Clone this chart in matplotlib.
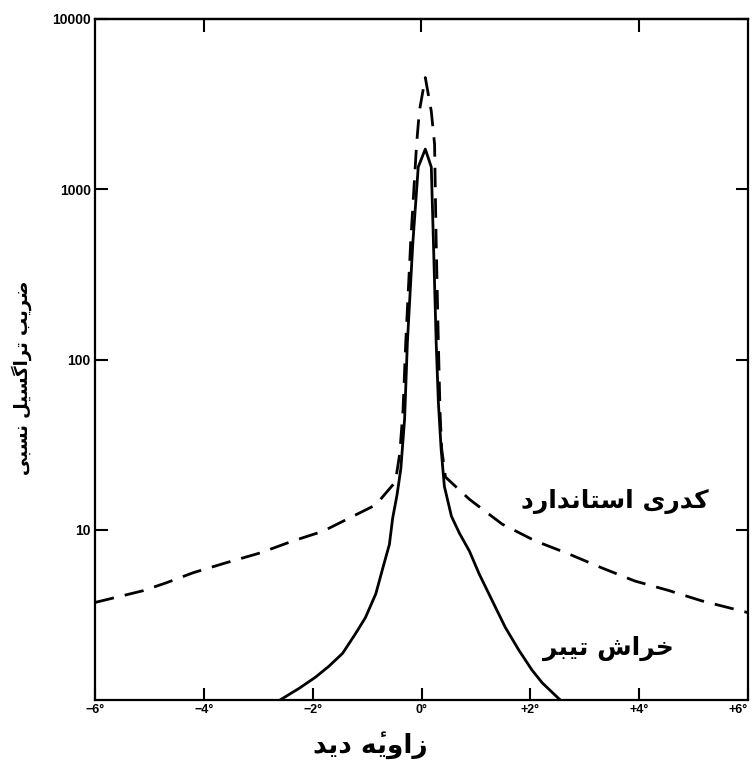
import matplotlib
matplotlib.use("Agg")
import matplotlib.pyplot as plt

# curve readings (angle in degrees, relative value)
solid_x = [-2.60, -2.25, -1.95, -1.70, -1.45, -1.21, -1.03, -0.84, -0.71, -0.59, -0.53, -0.45, -0.38,
           -0.31, -0.26, -0.16, -0.06, 0.07, 0.18, 0.22, 0.27, 0.31, 0.36, 0.42, 0.55,
           0.70, 0.88, 1.06, 1.30, 1.54, 1.79, 2.03, 2.22, 2.40, 2.55]
solid_y = [1.0, 1.17, 1.36, 1.58, 1.88, 2.46, 3.05, 4.2, 5.97, 8.2, 11.7, 16.0, 22.8,
           45.0, 125.0, 480.0, 1350.0, 1722.0, 1350.0, 480.0, 125.0, 56.0, 30.0, 18.0, 12.0,
           9.5, 7.5, 5.5, 3.83, 2.67, 1.96, 1.5, 1.26, 1.11, 1.0]

dashed_x = [-6.0, -5.11, -4.69, -4.19, -3.59, -2.97, -2.36, -1.81, -1.26, -0.84, -0.48,
            -0.40, -0.34, -0.29, -0.20, -0.09, -0.04, 0.07, 0.18, 0.24, 0.27, 0.31, 0.34,
            0.37, 0.44, 0.88, 1.48, 2.09, 2.71, 3.32, 3.92, 4.54, 5.14, 6.0]
dashed_y = [3.74, 4.39, 4.88, 5.6, 6.4, 7.3, 8.6, 9.8, 12.0, 14.0, 19.1,
            28.0, 50.0, 125.0, 480.0, 1842.0, 2870.0, 4530.0, 2870.0, 1842.0, 480.0, 125.0, 50.0,
            30.0, 20.4, 15.1, 10.8, 8.6, 7.2, 5.96, 5.0, 4.4, 3.83, 3.26]

x_ticks = [-6, -4, -2, 0, 2, 4, 6]
x_labels = ["\u22126°", "\u22124°", "\u22122°", "0°", "+2°", "+4°", "+6°"]
top_ticks = [-4, 0, 4]
y_ticks = [10, 100, 1000, 10000]
y_labels = ["10", "100", "1000", "10000"]

# Persian letters -> presentation forms (isolated, final, initial, medial)
FORMS = {
    'ا': ('\uFE8D', '\uFE8E'),
    'ب': ('\uFE8F', '\uFE90', '\uFE91', '\uFE92'),
    'ت': ('\uFE95', '\uFE96', '\uFE97', '\uFE98'),
    'خ': ('\uFEA5', '\uFEA6', '\uFEA7', '\uFEA8'),
    'د': ('\uFEA9', '\uFEAA'),
    'ر': ('\uFEAD', '\uFEAE'),
    'ز': ('\uFEAF', '\uFEB0'),
    'س': ('\uFEB1', '\uFEB2', '\uFEB3', '\uFEB4'),
    'ش': ('\uFEB5', '\uFEB6', '\uFEB7', '\uFEB8'),
    'ض': ('\uFEBD', '\uFEBE', '\uFEBF', '\uFEC0'),
    'ل': ('\uFEDD', '\uFEDE', '\uFEDF', '\uFEE0'),
    'ن': ('\uFEE5', '\uFEE6', '\uFEE7', '\uFEE8'),
    'ه': ('\uFEE9', '\uFEEA', '\uFEEB', '\uFEEC'),
    'و': ('\uFEED', '\uFEEE'),
    'ی': ('\uFBFC', '\uFBFD', '\uFBFE', '\uFBFF'),
    'ک': ('\uFB8E', '\uFB8F', '\uFB90', '\uFB91'),
    'گ': ('\uFB92', '\uFB93', '\uFB94', '\uFB95'),
}
MARKS = '\u0654'


def fa(text):
    # minimal shaping + right-to-left order, matplotlib has no bidi
    letters = [c for c in text if c not in MARKS]
    clusters = []
    j = 0
    for ch in text:
        if ch in MARKS:
            clusters[-1] += ch
            continue
        prev = letters[j - 1] if j > 0 else ''
        nxt = letters[j + 1] if j + 1 < len(letters) else ''
        j += 1
        if ch not in FORMS:
            clusters.append(ch)
            continue
        join_prev = prev in FORMS and len(FORMS[prev]) == 4
        join_next = len(FORMS[ch]) == 4 and nxt in FORMS
        f = FORMS[ch]
        if join_prev and join_next:
            clusters.append(f[3])
        elif join_prev:
            clusters.append(f[1])
        elif join_next:
            clusters.append(f[2])
        else:
            clusters.append(f[0])
    return ''.join(reversed(clusters))


fig = plt.figure(figsize=(7.56, 7.65), dpi=100)
ax = fig.add_axes([95 / 756, 1 - 700 / 765, 653 / 756, 681 / 765])

ax.plot(solid_x, solid_y, color='black', lw=2.0, solid_joinstyle='round')
ax.plot(dashed_x, dashed_y, color='black', lw=2.0, dashes=(7, 4))

ax.set_yscale('log')
ax.set_xlim(-6, 6)
ax.set_ylim(1, 10000)
ax.minorticks_off()

ax.set_xticks(x_ticks)
ax.set_xticklabels(x_labels, fontsize=9, fontweight='bold', family='Liberation Sans')
ax.get_xticklabels()[-1].set_horizontalalignment('right')
ax.set_yticks(y_ticks)
ax.set_yticklabels(y_labels, fontsize=10, fontweight='bold', family='Liberation Sans')
ax.tick_params(direction='in', length=9, width=1.5, pad=3, right=True, top=False,
               labelright=False)
top = ax.secondary_xaxis('top')
top.set_xticks(top_ticks)
top.tick_params(direction='in', length=9, width=1.5, labeltop=False)
top.spines['top'].set_linewidth(1.6)
for s in ax.spines.values():
    s.set_linewidth(1.6)

fig.text(370 / 756, 1 - 745 / 765, fa("زاویهٔ دید"), ha='center', va='center',
         fontsize=19, fontweight='bold', family='DejaVu Sans')
fig.text(22 / 756, 1 - 378 / 765, fa("ضریب تراگسیل نسبی"), ha='center', va='center',
         rotation=90, fontsize=13, fontweight='bold', family='DejaVu Sans')

ax.text(3.55, 14.7, fa("کدری استاندارد"), ha='center', va='center', fontsize=18,
        fontweight='bold', family='DejaVu Sans')
ax.text(3.44, 2.0, fa("خراش تیبر"), ha='center', va='center', fontsize=18,
        fontweight='bold', family='DejaVu Sans')

fig.savefig("out.png", dpi=100)
